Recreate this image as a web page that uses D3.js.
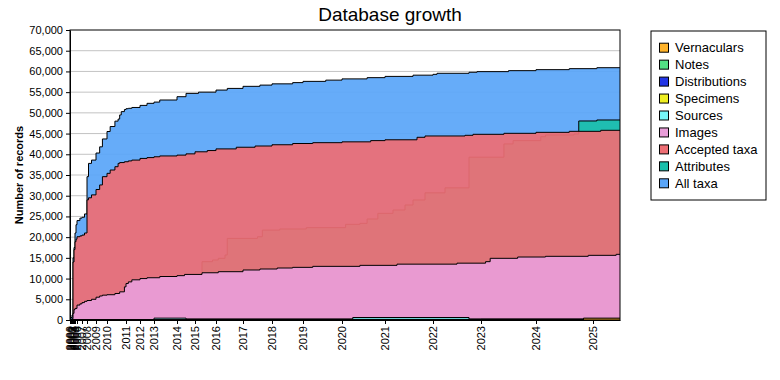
<!DOCTYPE html>
<html>
<head>
<meta charset="utf-8">
<script src="https://cdn.jsdelivr.net/npm/d3@7/dist/d3.min.js"></script>
<style>
    body { margin: 0; background: #fff; }
    text { font-family: Arial, "Liberation Sans", sans-serif; }
</style>
</head>
<body>
<div id="chart"></div>
<script>
var margin = { top: 30, right: 160, bottom: 60, left: 70 },
    width = 780 - margin.left - margin.right,
    height = 380 - margin.top - margin.bottom;

// years on the axis and how many updates each year had (the axis is spaced per update)
var yearTicks = [2000, 2001, 2002, 2003, 2004, 2005, 2006, 2007, 2008, 2009, 2010, 2011, 2012,
    2013, 2014, 2015, 2016, 2017, 2018, 2019, 2020, 2021, 2022, 2023, 2024, 2025];
var updatesPerYear = [1, 1, 1, 1, 1, 2, 5, 5, 9, 11, 19, 14, 14, 23, 18, 21, 27, 29, 31, 39, 43, 48, 48, 55, 57, 27];
var lastUpdate = "2025-08";

var allTaxa = [["2000-01", 300], ["2001-01", 600], ["2002-01", 1200], ["2003-01", 15000], ["2004-01", 17500],
    ["2005-01", 21000], ["2005-07", 23000], ["2006-01", 24000], ["2006-08", 24600], ["2007-01", 24800],
    ["2007-07", 25600], ["2008-01", 34600], ["2008-03", 37800], ["2008-07", 38600], ["2009-01", 40300],
    ["2009-05", 41800], ["2009-08", 43700], ["2010-01", 45500], ["2010-03", 46700], ["2010-06", 48000],
    ["2010-08", 48500], ["2010-09", 49500], ["2010-10", 50300], ["2010-12", 50800], ["2011-01", 51000],
    ["2011-03", 51100], ["2011-06", 51300], ["2012-01", 51800], ["2012-07", 52300], ["2013-01", 52600],
    ["2013-04", 53100], ["2014-01", 53900], ["2014-07", 54700], ["2015-03", 55000], ["2016-01", 55500],
    ["2016-06", 55900], ["2017-01", 56400], ["2017-08", 56700], ["2018-01", 57000], ["2018-09", 57300],
    ["2019-01", 57600], ["2019-08", 57900], ["2020-01", 58200], ["2020-08", 58500], ["2021-01", 58800],
    ["2021-08", 59100], ["2022-01", 59300], ["2022-02", 59550], ["2022-10", 59800], ["2022-12", 59950],
    ["2023-07", 60190], ["2024-01", 60430], ["2024-08", 60670], ["2025-02", 60900]];

var attributes = [["2000-01", 0], ["2015-05", 14080], ["2015-11", 14480], ["2016-02", 14890], ["2016-05", 15690],
    ["2016-06", 19700], ["2017-07", 20100], ["2017-09", 21700], ["2018-04", 21970], ["2019-02", 22290],
    ["2020-02", 23090], ["2020-06", 23330], ["2020-08", 24380], ["2020-11", 25750], ["2021-03", 26550],
    ["2021-06", 27760], ["2021-08", 28970], ["2021-11", 30700], ["2022-04", 31900], ["2022-10", 39300],
    ["2023-06", 42500], ["2023-08", 43300], ["2024-02", 44250], ["2024-03", 44660], ["2024-09", 44900],
    ["2024-10", 48040], ["2025-02", 48280]];

var acceptedTaxa = [["2000-01", 0], ["2003-01", 14000], ["2004-01", 17000], ["2005-01", 18900], ["2005-07", 19500],
    ["2006-01", 20100], ["2006-08", 20300], ["2007-01", 20500], ["2007-07", 21000], ["2008-01", 29000],
    ["2008-03", 29500], ["2008-07", 30200], ["2009-01", 31500], ["2009-05", 32600], ["2009-08", 34600],
    ["2010-01", 35400], ["2010-03", 36200], ["2010-06", 37000], ["2010-08", 37800], ["2010-09", 38000],
    ["2010-12", 38200], ["2011-03", 38400], ["2011-06", 38600], ["2012-01", 39000], ["2012-07", 39200],
    ["2013-01", 39400], ["2013-04", 39600], ["2014-01", 39800], ["2014-07", 40100], ["2015-01", 40600],
    ["2015-08", 40900], ["2016-01", 41300], ["2016-10", 41700], ["2017-06", 42000], ["2018-01", 42300],
    ["2018-09", 42600], ["2019-04", 42800], ["2020-01", 43000], ["2020-09", 43300], ["2021-01", 43500],
    ["2021-09", 44100], ["2021-11", 44420], ["2022-09", 44580], ["2022-11", 44820], ["2023-06", 45060],
    ["2024-01", 45300], ["2024-08", 45540], ["2025-03", 45790]];

var images = [["2000-01", 0], ["2002-01", 300], ["2003-01", 1600], ["2004-01", 2500], ["2005-01", 2800],
    ["2006-01", 3600], ["2006-08", 3900], ["2007-01", 4200], ["2007-07", 4500], ["2008-01", 4700],
    ["2008-07", 5000], ["2009-01", 5500], ["2009-05", 5800], ["2009-08", 6000], ["2010-01", 6100],
    ["2010-06", 6400], ["2010-09", 6800], ["2010-12", 8000], ["2011-01", 8800], ["2011-03", 9200],
    ["2011-06", 9700], ["2012-01", 10000], ["2012-07", 10200], ["2013-04", 10500], ["2014-01", 10700],
    ["2014-06", 11000], ["2015-05", 11400], ["2016-02", 11660], ["2017-01", 12070], ["2017-08", 12310],
    ["2018-03", 12550], ["2018-09", 12710], ["2019-04", 12950], ["2020-06", 13190], ["2021-04", 13480],
    ["2022-07", 13720], ["2023-02", 14080], ["2023-03", 14890], ["2023-09", 15200], ["2024-03", 15370],
    ["2024-12", 15610], ["2025-07", 15850]];

var sources = [["2000-01", 0], ["2013-01", 450], ["2014-07", 250], ["2020-04", 600], ["2022-10", 250]];
var specimens = [["2000-01", 0], ["2023-01", 150]];
var distributions = [["2000-01", 0], ["2014-07", 150]];
var notes = [["2000-01", 0], ["2015-01", 80]];
var vernaculars = [["2000-01", 0], ["2024-11", 450]];

// legend order (top to bottom); drawn in reverse so "All taxa" sits at the back
var series = [
    { name: "Vernaculars", color: "#ffb32a", values: vernaculars },
    { name: "Notes", color: "#52e184", values: notes },
    { name: "Distributions", color: "#2336e6", values: distributions },
    { name: "Specimens", color: "#eeee22", values: specimens },
    { name: "Sources", color: "#76f6f8", values: sources },
    { name: "Images", color: "#e99dd8", values: images },
    { name: "Accepted taxa", color: "#ee6e74", values: acceptedTaxa },
    { name: "Attributes", color: "#1abfab", values: attributes },
    { name: "All taxa", color: "#5aa6f9", values: allTaxa }
];

function toYear(s) {
    var parts = s.split("-");
    return +parts[0] + (+parts[1] - 1) / 12;
}

var svg = d3.select("#chart").append("svg")
    .attr("width", 780)
    .attr("height", 380);

svg.append("text")
    .attr("x", 390)
    .attr("y", 21)
    .style("text-anchor", "middle")
    .style("font-size", "19px")
    .text("Database growth");

var g = svg.append("g")
    .attr("transform", "translate(" + margin.left + "," + margin.top + ")");

// x: each update gets the same width, so map year boundaries to cumulative update counts
var cumulative = [0];
updatesPerYear.forEach(function(n, i) { cumulative.push(cumulative[i] + n); });
var total = cumulative[cumulative.length - 1];
var xDomain = yearTicks.concat([toYear(lastUpdate)]);

var x = d3.scaleLinear()
    .domain(xDomain)
    .range(cumulative.map(function(c) { return c * width / total; }));

var y = d3.scaleLinear()
    .domain([0, 70000])
    .range([height, 0]);

// gridlines
g.append("g")
    .selectAll("line")
    .data(d3.range(5000, 70000, 5000))
    .enter().append("line")
    .attr("x1", 0)
    .attr("x2", width)
    .attr("y1", function(d) { return y(d); })
    .attr("y2", function(d) { return y(d); })
    .style("stroke", "#c3c3c3")
    .style("stroke-width", 1);

var area = d3.area().curve(d3.curveStepAfter)
    .x(function(d) { return x(d.date); })
    .y0(height)
    .y1(function(d) { return y(d.value); });
var line = d3.line().curve(d3.curveStepAfter)
    .x(function(d) { return x(d.date); })
    .y(function(d) { return y(d.value); });

var drawOrder = series.slice().reverse();
drawOrder.forEach(function(s) {
    var pts = s.values.map(function(v) { return { date: toYear(v[0]), value: v[1] }; });
    pts.push({ date: toYear(lastUpdate), value: pts[pts.length - 1].value }); // hold last value to the end

    g.append("path")
        .datum(pts)
        .attr("d", area)
        .style("fill", s.color)
        .style("fill-opacity", 0.93)
        .style("stroke", "none");

    g.append("path")
        .datum(pts)
        .attr("d", line)
        .style("fill", "none")
        .style("stroke", "#000")
        .style("stroke-width", 1);
});

var yAxis = d3.axisLeft(y)
    .tickValues(d3.range(0, 70001, 5000))
    .tickSize(4)
    .tickSizeOuter(0)
    .tickFormat(d3.format(","));

var xAxis = d3.axisBottom(x)
    .tickValues(yearTicks)
    .tickSize(4)
    .tickSizeOuter(0)
    .tickFormat(d3.format("d"));

var yg = g.append("g").call(yAxis);
yg.selectAll("text").style("font-size", "11px").style("fill", "#000");

var xg = g.append("g")
    .attr("transform", "translate(0," + height + ")")
    .call(xAxis);
xg.selectAll("text")
    .style("font-size", "11px")
    .style("fill", "#000")
    .style("text-anchor", "end")
    .attr("transform", "rotate(-90)")
    .attr("x", -6)
    .attr("y", 0)
    .attr("dy", "0.35em");

svg.selectAll(".domain, .tick line").style("stroke", "#000");

// frame round the plot
g.append("rect")
    .attr("width", width)
    .attr("height", height)
    .style("fill", "none")
    .style("stroke", "#000")
    .style("stroke-width", 1);

svg.append("text")
    .attr("transform", "rotate(-90)")
    .attr("x", -(margin.top + height / 2))
    .attr("y", 23)
    .style("text-anchor", "middle")
    .style("font-size", "11px")
    .style("font-weight", "bold")
    .text("Number of records");

// legend
var legend = svg.append("g")
    .attr("transform", "translate(651,31)");

legend.append("rect")
    .attr("width", 115)
    .attr("height", 169)
    .style("fill", "#fff")
    .style("stroke", "#000");

var item = legend.selectAll(".item")
    .data(series)
    .enter().append("g")
    .attr("class", "item")
    .attr("transform", function(d, i) { return "translate(8," + (16.7 + i * 16.95) + ")"; });

item.append("rect")
    .attr("x", 0.5)
    .attr("y", -4.5)
    .attr("width", 9)
    .attr("height", 9)
    .style("fill", function(d) { return d.color; })
    .style("stroke", "#000");

item.append("text")
    .attr("x", 16)
    .attr("y", 4.5)
    .style("font-size", "13px")
    .text(function(d) { return d.name; });
</script>
</body>
</html>
